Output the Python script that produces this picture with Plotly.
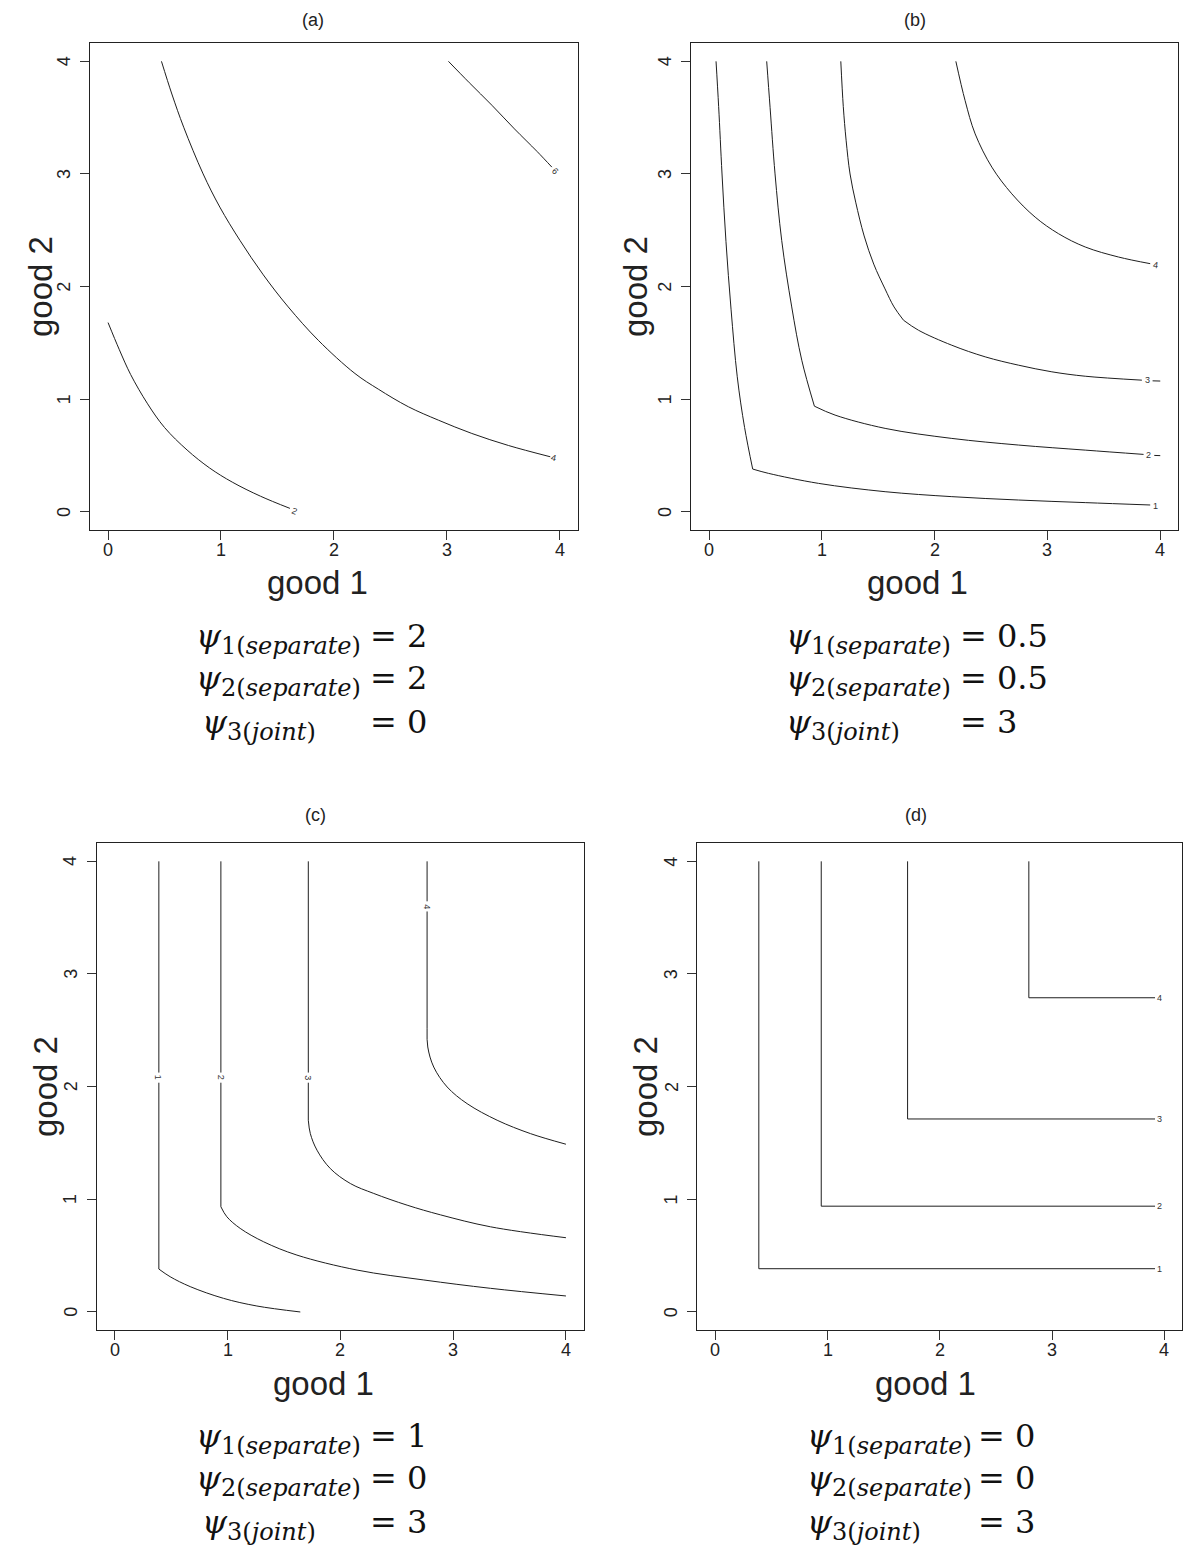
import plotly.graph_objects as go

W, H = 1183, 1552

# ---------------- data ----------------
TICK_VALUES = [0, 1, 2, 3, 4]
TICK_LABELS = ["0", "1", "2", "3", "4"]
PANEL_TITLES = ["(a)", "(b)", "(c)", "(d)"]
X_TITLE = "good 1"
Y_TITLE = "good 2"

# panel (a): psi1=2, psi2=2, psi3=0
A_C2_X = [0.000, 0.100, 0.200, 0.350, 0.500, 0.700, 0.900, 1.100, 1.350, 1.611]
A_C2_Y = [1.681, 1.440, 1.220, 0.960, 0.750, 0.550, 0.390, 0.265, 0.140, 0.032]
A_C4_X = [0.473, 0.565, 0.670, 0.842, 0.990, 1.168, 1.375, 1.596, 1.862, 2.187, 2.394, 2.660, 2.926, 3.222, 3.547, 3.917]
A_C4_Y = [4.000, 3.710, 3.415, 3.001, 2.706, 2.411, 2.105, 1.820, 1.524, 1.229, 1.090, 0.934, 0.815, 0.697, 0.590, 0.490]
A_C6_X = [3.015, 3.200, 3.400, 3.600, 3.800, 3.931]
A_C6_Y = [4.000, 3.810, 3.610, 3.400, 3.200, 3.061]
A_LABELS = ["2", "4", "6"]
A_LABEL_X = [1.650, 3.950, 3.960]
A_LABEL_Y = [0.010, 0.480, 3.030]

# panel (b): psi1=0.5, psi2=0.5, psi3=3
B_C1_X = [0.062, 0.085, 0.115, 0.150, 0.195, 0.250, 0.315, 0.387, None,
          0.387, 0.526, 0.970, 1.561, 2.152, 2.744, 3.335, 3.911]
B_C1_Y = [4.000, 3.600, 3.000, 2.400, 1.800, 1.200, 0.750, 0.381, None,
          0.381, 0.343, 0.254, 0.180, 0.136, 0.106, 0.083, 0.062]
B_C2_X = [0.511, 0.541, 0.585, 0.644, 0.733, 0.822, 0.934, None,
          0.934, 1.117, 1.561, 2.152, 2.744, 3.335, 3.852, None, 3.947, 4.000]
B_C2_Y = [4.000, 3.592, 3.001, 2.411, 1.820, 1.347, 0.939, None,
          0.939, 0.860, 0.742, 0.653, 0.594, 0.549, 0.511, None, 0.502, 0.500]
B_C3_X = [1.168, 1.190, 1.215, 1.250, 1.300, 1.375, 1.460, 1.560, 1.640, 1.724, None,
          1.724, 1.857, 2.152, 2.448, 2.744, 3.039, 3.335, 3.837, None, 3.932, 4.000]
B_C3_Y = [4.000, 3.600, 3.300, 3.000, 2.750, 2.450, 2.200, 1.980, 1.820, 1.702, None,
          1.702, 1.613, 1.480, 1.377, 1.303, 1.244, 1.205, 1.170, None, 1.164, 1.162]
B_C4_X = [2.188, 2.270, 2.359, 2.507, 2.684, 2.891, 3.098, 3.335, 3.630, 3.911]
B_C4_Y = [4.000, 3.651, 3.356, 3.061, 2.824, 2.617, 2.470, 2.352, 2.263, 2.204]
B_LABELS = ["1", "2", "3", "4"]
B_LABEL_X = [3.956, 3.900, 3.888, 3.956]
B_LABEL_Y = [0.055, 0.505, 1.168, 2.190]

# panel (c): psi1=1, psi2=0, psi3=3
C_C1_X = [0.391, 0.391, None, 0.391, 0.391, None, 0.391, 0.491, 0.669, 0.964, 1.260, 1.645]
C_C1_Y = [4.000, 2.125, None, 2.035, 0.381, None, 0.381, 0.313, 0.225, 0.121, 0.053, 0.000]
C_C2_X = [0.941, 0.941, None, 0.941, 0.941, None, 0.941, 0.994, 1.112, 1.320, 1.615, 2.148, 2.740, 3.331, 4.000]
C_C2_Y = [4.000, 2.125, None, 2.035, 0.934, None, 0.934, 0.845, 0.742, 0.623, 0.505, 0.372, 0.284, 0.210, 0.142]
C_C3_X = [1.716, 1.716, None, 1.716, 1.716, None, 1.716, 1.734, 1.793, 1.911, 2.089, 2.296, 2.592, 2.888, 3.331, 4.000]
C_C3_Y = [4.000, 2.125, None, 2.035, 1.702, None, 1.702, 1.583, 1.436, 1.273, 1.140, 1.052, 0.948, 0.862, 0.756, 0.659]
C_C4_X = [2.769, 2.769, None, 2.769, 2.769, None, 2.769, 2.775, 2.828, 2.947, 3.124, 3.390, 3.686, 4.000]
C_C4_Y = [4.000, 3.645, None, 3.555, 2.514, None, 2.514, 2.352, 2.174, 1.997, 1.849, 1.702, 1.583, 1.489]
C_LABELS = ["1", "2", "3", "4"]
C_LABEL_X = [0.391, 0.941, 1.716, 2.769]
C_LABEL_Y = [2.080, 2.080, 2.080, 3.600]

# panel (d): psi1=0, psi2=0, psi3=3
D_C1_X = [0.388, 0.388, 3.917]
D_C1_Y = [4.000, 0.384, 0.384]
D_C2_X = [0.944, 0.944, 3.917]
D_C2_Y = [4.000, 0.939, 0.939]
D_C3_X = [1.713, 1.713, 3.917]
D_C3_Y = [4.000, 1.713, 1.713]
D_C4_X = [2.793, 2.793, 3.917]
D_C4_Y = [4.000, 2.789, 2.789]
D_LABELS = ["1", "2", "3", "4"]
D_LABEL_X = [3.960, 3.960, 3.960, 3.960]
D_LABEL_Y = [0.384, 0.939, 1.713, 2.789]

PSI_INDEX = ["1", "2", "3"]
PSI_KIND = ["separate", "separate", "joint"]
A_PSI_VALUES = ["2", "2", "0"]
B_PSI_VALUES = ["0.5", "0.5", "3"]
C_PSI_VALUES = ["1", "0", "3"]
D_PSI_VALUES = ["0", "0", "3"]

# ---------------- layout helpers ----------------
def px_x(p):
    return p / W

def px_y(p):
    return 1 - p / H

AX_RANGE = [-0.16, 4.16]
# panel boxes in pixels: left, right, top, bottom
BOXES = [(90, 577.7, 43.3, 530), (691, 1178.3, 43.3, 530),
         (96.7, 584, 843.3, 1330), (697.3, 1182.3, 843.3, 1330)]

LINE_COLOR = "#1e1e1e"
TEXT_COLOR = "#222"
FONT = "Liberation Sans"
MATH_FONT = "DejaVu Serif"

fig = go.Figure()

panels = [
    ([(A_C2_X, A_C2_Y), (A_C4_X, A_C4_Y), (A_C6_X, A_C6_Y)],
     A_LABELS, A_LABEL_X, A_LABEL_Y, [22, 13, 45], "spline"),
    ([(B_C1_X, B_C1_Y), (B_C2_X, B_C2_Y), (B_C3_X, B_C3_Y), (B_C4_X, B_C4_Y)],
     B_LABELS, B_LABEL_X, B_LABEL_Y, [0, 0, 0, 8], "spline"),
    ([(C_C1_X, C_C1_Y), (C_C2_X, C_C2_Y), (C_C3_X, C_C3_Y), (C_C4_X, C_C4_Y)],
     C_LABELS, C_LABEL_X, C_LABEL_Y, [90, 90, 90, 90], "spline"),
    ([(D_C1_X, D_C1_Y), (D_C2_X, D_C2_Y), (D_C3_X, D_C3_Y), (D_C4_X, D_C4_Y)],
     D_LABELS, D_LABEL_X, D_LABEL_Y, [0, 0, 0, 0], "linear"),
]

annotations = []
layout_axes = {}
for i, (curves, labs, lx, ly, angs, shape) in enumerate(panels):
    n = "" if i == 0 else str(i + 1)
    xa, ya = "x" + n, "y" + n
    for cx, cy in curves:
        fig.add_trace(go.Scatter(x=cx, y=cy, mode="lines", xaxis=xa, yaxis=ya,
                                 line=dict(color=LINE_COLOR, width=1, shape=shape,
                                           smoothing=1.0),
                                 connectgaps=False, showlegend=False,
                                 hoverinfo="skip"))
    for t, x, y, a in zip(labs, lx, ly, angs):
        annotations.append(dict(x=x, y=y, xref=xa, yref=ya, text=t, showarrow=False,
                                textangle=a, font=dict(family=FONT, size=9, color="#333"),
                                xanchor="center", yanchor="middle"))
    # tick labels (placed like R's axis labels)
    for v, t in zip(TICK_VALUES, TICK_LABELS):
        annotations.append(dict(x=v, xref=xa, y=0, yref=ya + " domain", yshift=-20,
                                text=t, showarrow=False,
                                font=dict(family=FONT, size=18, color=TEXT_COLOR),
                                xanchor="center", yanchor="middle"))
        annotations.append(dict(x=0, xref=xa + " domain", xshift=-26, y=v, yref=ya,
                                text=t, showarrow=False, textangle=-90,
                                font=dict(family=FONT, size=18, color=TEXT_COLOR),
                                xanchor="center", yanchor="middle"))
    l, r, t, b = BOXES[i]
    common = dict(range=AX_RANGE, tickmode="array", tickvals=TICK_VALUES,
                  showticklabels=False, ticks="outside", ticklen=9, tickwidth=1,
                  tickcolor="#333", showline=True, mirror=True, linecolor="#222",
                  linewidth=1, showgrid=False, zeroline=False, fixedrange=True)
    layout_axes["xaxis" + n] = dict(common, domain=[px_x(l), px_x(r)], anchor=ya)
    layout_axes["yaxis" + n] = dict(common, domain=[px_y(b), px_y(t)], anchor=xa)

# titles and axis titles (pixel positions)
TITLE_POS = [(313, 20), (915, 20), (315, 815), (916, 815)]
XT_POS = [(317, 582), (918, 582), (323, 1383), (925, 1383)]
YT_POS = [(40, 287), (635, 287), (45, 1087), (645, 1087)]
for i in range(4):
    tx, ty = TITLE_POS[i]
    annotations.append(dict(x=px_x(tx), y=px_y(ty), xref="paper", yref="paper",
                            text=PANEL_TITLES[i], showarrow=False,
                            font=dict(family=FONT, size=18, color=TEXT_COLOR),
                            xanchor="center", yanchor="middle"))
    gx, gy = XT_POS[i]
    annotations.append(dict(x=px_x(gx), y=px_y(gy), xref="paper", yref="paper",
                            text=X_TITLE, showarrow=False,
                            font=dict(family=FONT, size=33, color=TEXT_COLOR),
                            xanchor="center", yanchor="middle"))
    hx, hy = YT_POS[i]
    annotations.append(dict(x=px_x(hx), y=px_y(hy), xref="paper", yref="paper",
                            text=Y_TITLE, showarrow=False, textangle=-90,
                            font=dict(family=FONT, size=33, color=TEXT_COLOR),
                            xanchor="center", yanchor="middle"))

# psi equations
PSI_LEFT_X = [[194, 194, 200], [784, 784, 784], [194, 194, 200], [805, 805, 805]]
PSI_EQ_X = [368, 958, 368, 976]
PSI_ROW_Y = [[636, 678, 722], [636, 678, 722], [1436, 1478, 1522], [1436, 1478, 1522]]
PSI_VALUES = [A_PSI_VALUES, B_PSI_VALUES, C_PSI_VALUES, D_PSI_VALUES]
for i in range(4):
    for k in range(3):
        txt = ("<i>ψ</i><sub><span style='font-size:24px'>" + PSI_INDEX[k] +
               "(<i>" + PSI_KIND[k] + "</i>)</span></sub>")
        annotations.append(dict(x=px_x(PSI_LEFT_X[i][k]), y=px_y(PSI_ROW_Y[i][k] + 2),
                                xref="paper", yref="paper", text=txt,
                                showarrow=False,
                                font=dict(family=MATH_FONT, size=32, color="#111"),
                                xanchor="left", yanchor="middle"))
        annotations.append(dict(x=px_x(PSI_EQ_X[i]), y=px_y(PSI_ROW_Y[i][k]),
                                xref="paper", yref="paper",
                                text="= " + PSI_VALUES[i][k], showarrow=False,
                                font=dict(family=MATH_FONT, size=32, color="#111"),
                                xanchor="left", yanchor="middle"))

fig.update_layout(width=W, height=H, margin=dict(l=0, r=0, t=0, b=0),
                  paper_bgcolor="white", plot_bgcolor="white",
                  annotations=annotations, showlegend=False, **layout_axes)

fig.write_html("out.html", config={"displayModeBar": False},
               post_script="document.body.style.margin='0px';")
